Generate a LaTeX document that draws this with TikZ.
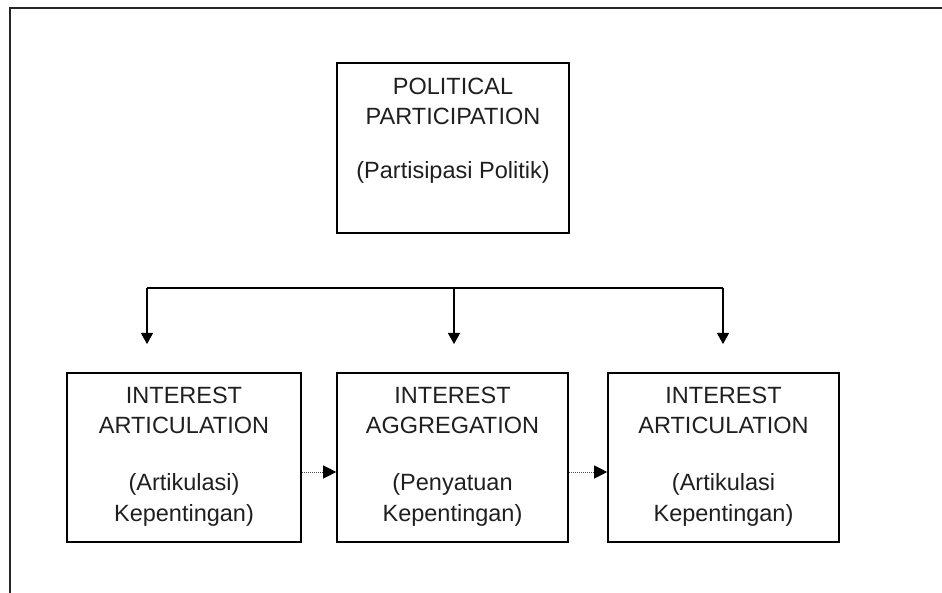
\documentclass[tikz,border=0pt]{standalone}
\usepackage{fontspec}
\setmainfont{Liberation Sans}
\usetikzlibrary{arrows.meta}
\begin{document}
\begin{tikzpicture}[x=1pt,y=-1pt,
  box/.style={draw=black,line width=1.6pt,minimum width=#1,minimum height=169pt,inner sep=0pt},
  txt/.style={anchor=base,font=\fontsize{23.5}{27}\selectfont,text=black!88,inner sep=0pt},
  conn/.style={draw=black,line width=1.4pt},
  dnarrow/.style={conn,-{Triangle[length=11pt,width=12pt]}},
  dotarrow/.style={draw=black!70,line width=0.9pt,dash pattern=on 1pt off 1pt,-{Triangle[length=13pt,width=13pt,fill=black,color=black]}}
]
\useasboundingbox (0,0) rectangle (942,593);
% outer frame (cut at right and bottom)
\coordinate (fTR) at (945,8);
\coordinate (fTL) at (10,8);
\coordinate (fBL) at (10,596);
\draw[line width=1.6pt,black!85] (fTR) -- (fTL) -- (fBL);

% top box
\node[box=232pt,minimum height=170pt] (pp) at (453,148) {};
\node[txt] (pp1) at (453,95) {POLITICAL};
\node[txt] (pp2) at (453,125) {PARTICIPATION};
\node[txt] (pp3) at (453,179) {(Partisipasi Politik)};

% bottom boxes
\node[box=234pt] (ia) at (184,457.5) {};
\node[txt] (ia1) at (184,403) {INTEREST};
\node[txt] (ia2) at (184,433) {ARTICULATION};
\node[txt] (ia3) at (184,490) {(Artikulasi)};
\node[txt] (ia4) at (184,521) {Kepentingan)};

\node[box=231pt] (ag) at (452.5,457.5) {};
\node[txt] (ag1) at (452.5,403) {INTEREST};
\node[txt] (ag2) at (452.5,433) {AGGREGATION};
\node[txt] (ag3) at (452.5,490) {(Penyatuan};
\node[txt] (ag4) at (452.5,521) {Kepentingan)};

\node[box=231pt] (ib) at (723.5,457.5) {};
\node[txt] (ib1) at (723.5,403) {INTEREST};
\node[txt] (ib2) at (723.5,433) {ARTICULATION};
\node[txt] (ib3) at (723.5,490) {(Artikulasi};
\node[txt] (ib4) at (723.5,521) {Kepentingan)};

% distribution line
\coordinate (hL) at (147,288);
\coordinate (hM) at (454,288);
\coordinate (hR) at (723,288);
\coordinate (tL) at (147,344);
\coordinate (tM) at (454,344);
\coordinate (tR) at (723,344);
\draw[conn] (hL) -- (hR);
\draw[dnarrow] (hL) -- (tL);
\draw[dnarrow] (hM) -- (tM);
\draw[dnarrow] (hR) -- (tR);

% dotted arrows between boxes
\draw[dotarrow] (ia.east |- 0,472) -- (ag.west |- 0,472);
\draw[dotarrow] (ag.east |- 0,472) -- (ib.west |- 0,472);
\end{tikzpicture}
\end{document}
